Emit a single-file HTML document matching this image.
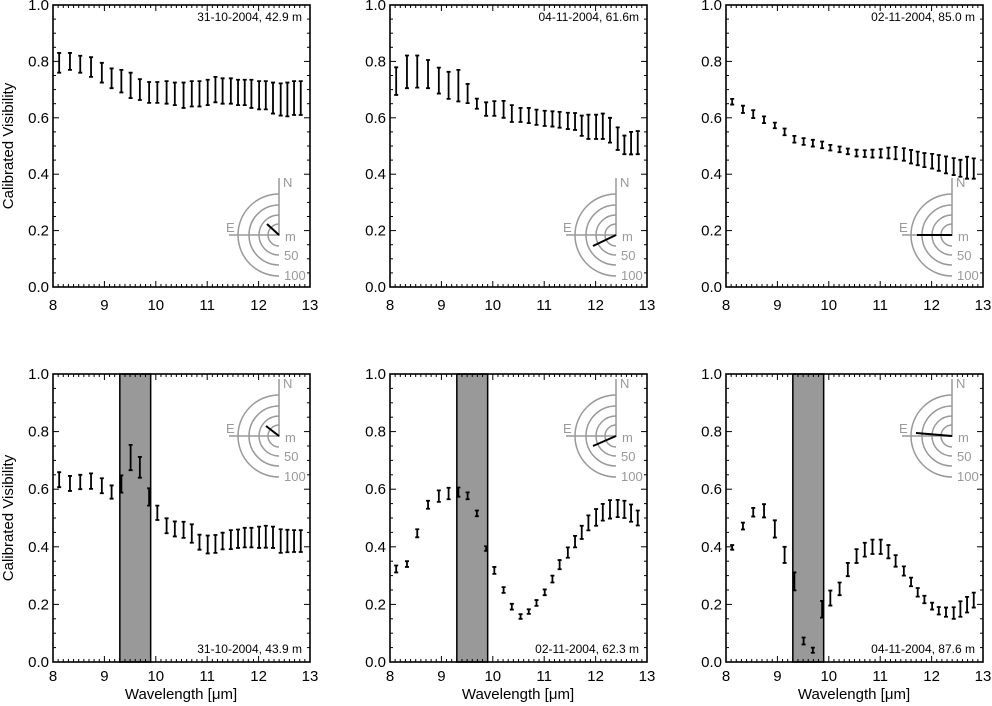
<!DOCTYPE html>
<html><head><meta charset="utf-8">
<style>
html,body{margin:0;padding:0;background:#fff;}
svg{display:block;font-family:"Liberation Sans",sans-serif;}
</style></head>
<body>
<svg id="fig" width="992" height="706" viewBox="0 0 992 706" xmlns="http://www.w3.org/2000/svg"></svg>
<script>
const wavelengths = [8.12,8.33,8.53,8.74,8.95,9.14,9.33,9.51,9.69,9.87,10.03,10.21,10.37,10.54,10.70,10.85,11.01,11.16,11.30,11.46,11.60,11.73,11.86,12.01,12.14,12.28,12.43,12.56,12.69,12.82];
const v1 = [.795,.80,.79,.78,.76,.74,.73,.715,.70,.69,.69,.69,.685,.68,.685,.685,.69,.70,.695,.695,.69,.69,.685,.68,.68,.67,.665,.665,.67,.67];
const e1 = [.035,.03,.03,.035,.035,.035,.04,.045,.037,.037,.037,.04,.04,.045,.045,.045,.045,.045,.045,.045,.045,.045,.05,.05,.05,.055,.057,.06,.06,.06];
const v2 = [.73,.763,.764,.755,.732,.715,.714,.686,.65,.631,.633,.63,.615,.61,.608,.602,.598,.596,.593,.589,.587,.572,.568,.568,.57,.556,.526,.504,.51,.512];
const e2 = [.049,.058,.057,.05,.046,.048,.056,.034,.018,.024,.026,.03,.03,.025,.027,.027,.027,.027,.028,.029,.03,.036,.043,.043,.045,.044,.04,.033,.04,.041];
const v3 = [.657,.63,.613,.593,.573,.55,.524,.516,.51,.504,.494,.488,.481,.475,.473,.473,.474,.475,.475,.47,.462,.456,.45,.446,.44,.433,.427,.421,.423,.42];
const e3 = [.01,.013,.014,.012,.01,.012,.012,.012,.012,.012,.01,.01,.01,.012,.012,.014,.015,.019,.022,.022,.024,.024,.025,.026,.028,.03,.03,.03,.039,.036];
const v4 = [.633,.62,.625,.628,.612,.59,.618,.71,.676,.573,.518,.473,.462,.459,.446,.416,.408,.41,.42,.425,.428,.432,.432,.433,.435,.433,.42,.42,.42,.42];
const e4 = [.026,.026,.025,.027,.026,.023,.03,.044,.036,.03,.025,.026,.026,.028,.032,.026,.031,.031,.029,.033,.032,.034,.034,.037,.038,.037,.041,.039,.038,.038];
const v5 = [.323,.34,.447,.546,.576,.585,.59,.577,.516,.394,.318,.25,.192,.158,.175,.205,.242,.288,.338,.38,.418,.45,.483,.502,.52,.53,.533,.53,.517,.5];
const e5 = [.012,.01,.014,.014,.02,.02,.016,.012,.01,.008,.012,.01,.01,.008,.008,.01,.01,.012,.016,.018,.02,.023,.026,.029,.029,.032,.03,.03,.03,.026];
const v6 = [.398,.472,.52,.525,.462,.372,.28,.073,.041,.183,.222,.254,.321,.368,.39,.4,.4,.383,.351,.316,.278,.242,.217,.194,.178,.173,.17,.184,.199,.215];
const e6 = [.008,.012,.015,.023,.03,.028,.031,.012,.009,.029,.026,.022,.023,.024,.024,.025,.025,.023,.02,.016,.015,.015,.013,.012,.013,.016,.02,.027,.027,.026];
const xTicks = ["8","9","10","11","12","13"];
const yTicks = ["0.0","0.2","0.4","0.6","0.8","1.0"];
const labels = ["31-10-2004, 42.9 m","04-11-2004, 61.6m","02-11-2004, 85.0 m","31-10-2004, 43.9 m","02-11-2004, 62.3 m","04-11-2004, 87.6 m"];
const baseDx = [-12,-23,-35,-13,-23,-36];
const baseDy = [-11,11,0,-10,10,-3];
const bandStart = 9.3, bandEnd = 9.9;

const NS="http://www.w3.org/2000/svg";
const svg=document.getElementById('fig');
function mk(tag,attrs,parent){const e=document.createElementNS(NS,tag);for(const k in attrs)e.setAttribute(k,attrs[k]);(parent||svg).appendChild(e);return e;}

const panels=[
 {x0:53,top:5,bot:287,v:v1,e:e1,band:false,lab:'top',xl:23},
 {x0:390,top:5,bot:287,v:v2,e:e2,band:false,lab:'top',xl:23},
 {x0:726,top:5,bot:287,v:v3,e:e3,band:false,lab:'top',xl:23},
 {x0:53,top:374,bot:662,v:v4,e:e4,band:true,lab:'bot',xl:19},
 {x0:390,top:374,bot:662,v:v5,e:e5,band:true,lab:'bot',xl:19},
 {x0:726,top:374,bot:662,v:v6,e:e6,band:true,lab:'bot',xl:19}
];
const W=257;
panels.forEach((p,i)=>{
 const g=mk('g',{});
 
 
 const X=l=>p.x0+(l-8)/5*W;
 const Y=v=>p.bot-v*(p.bot-p.top);
 if(p.band){
  const b=mk('rect',{x:X(bandStart),y:p.top,width:X(bandEnd)-X(bandStart),height:p.bot-p.top,fill:'#999',stroke:'#000','stroke-width':1.5},g);
  
  
 }
 for(let k=0;k<=50;k++){const l=8+k*0.1;const len=(k%10===0)?6:3;const x=X(l);
  mk('line',{x1:x,x2:x,y1:p.bot,y2:p.bot-len,stroke:'#000','stroke-width':1},g);
  mk('line',{x1:x,x2:x,y1:p.top,y2:p.top+len,stroke:'#000','stroke-width':1},g);}
 for(let k=0;k<=20;k++){const v=k*0.05;const len=(k%4===0)?6:3;const y=Y(v);
  mk('line',{x1:p.x0,x2:p.x0+len,y1:y,y2:y,stroke:'#000','stroke-width':1},g);
  mk('line',{x1:p.x0+W,x2:p.x0+W-len,y1:y,y2:y,stroke:'#000','stroke-width':1},g);}
 const fr=mk('rect',{x:p.x0,y:p.top,width:W,height:p.bot-p.top,fill:'none',stroke:'#000','stroke-width':1.6},g);
 
 
 xTicks.forEach(t=>{const tx=mk('text',{x:X(+t),y:p.bot+p.xl,'font-size':15,'text-anchor':'middle'},g);tx.textContent=t;
  
  });
 yTicks.forEach(t=>{const tx=mk('text',{x:p.x0-4,y:Y(+t)+5,'font-size':15,'text-anchor':'end'},g);tx.textContent=t;
  
  });
 wavelengths.forEach((l,j)=>{const x=X(l),y1=Y(p.v[j]+p.e[j]),y2=Y(p.v[j]-p.e[j]);
  const eb=mk('path',{d:`M${x},${y1}V${y2}M${x-2},${y1}H${x+2}M${x-2},${y2}H${x+2}`,stroke:'#000','stroke-width':1.8,fill:'none'},g);
  
  });
 const ly=p.lab==='top'?p.top+16:p.bot-9;
 const lt=mk('text',{x:p.x0+W-8,y:ly,'font-size':12,'text-anchor':'end'},g);lt.textContent=labels[i];
 
 
 const cx=p.x0+226, cy=(p.lab==='top')?p.top+230:p.top+62;
 const cg=mk('g',{stroke:'#999','stroke-width':1.5,fill:'none'},g);
 
 
 [11,20,30,41].forEach(r=>mk('path',{d:`M${cx},${cy-r}A${r},${r} 0 0 0 ${cx},${cy+r}`},cg));
 mk('line',{x1:cx,y1:cy+1,x2:cx,y2:cy-57},cg);
 mk('line',{x1:cx,y1:cy,x2:cx-50,y2:cy},cg);
 [['N',cx+4,cy-48],['E',cx-53,cy-3],['m',cx+6,cy+6],['50',cx+5,cy+25],['100',cx+5,cy+45]].forEach(a=>{
  const t=mk('text',{x:a[1],y:a[2],'font-size':13,fill:'#999',stroke:'none'},cg);t.textContent=a[0];});
 const bl=mk('line',{x1:cx,y1:cy,x2:cx+baseDx[i],y2:cy+baseDy[i],stroke:'#000','stroke-width':2},g);
 
 
});
[146,518].forEach(cy=>{const t=mk('text',{x:13,y:cy,'font-size':15,'text-anchor':'middle',transform:`rotate(-90 13 ${cy})`});t.textContent='Calibrated Visibility';
 
 });
[181,518,854].forEach(cx=>{const t=mk('text',{x:cx,y:699,'font-size':15,'text-anchor':'middle'});t.textContent='Wavelength [μm]';
 
 });
</script>
</body></html>
